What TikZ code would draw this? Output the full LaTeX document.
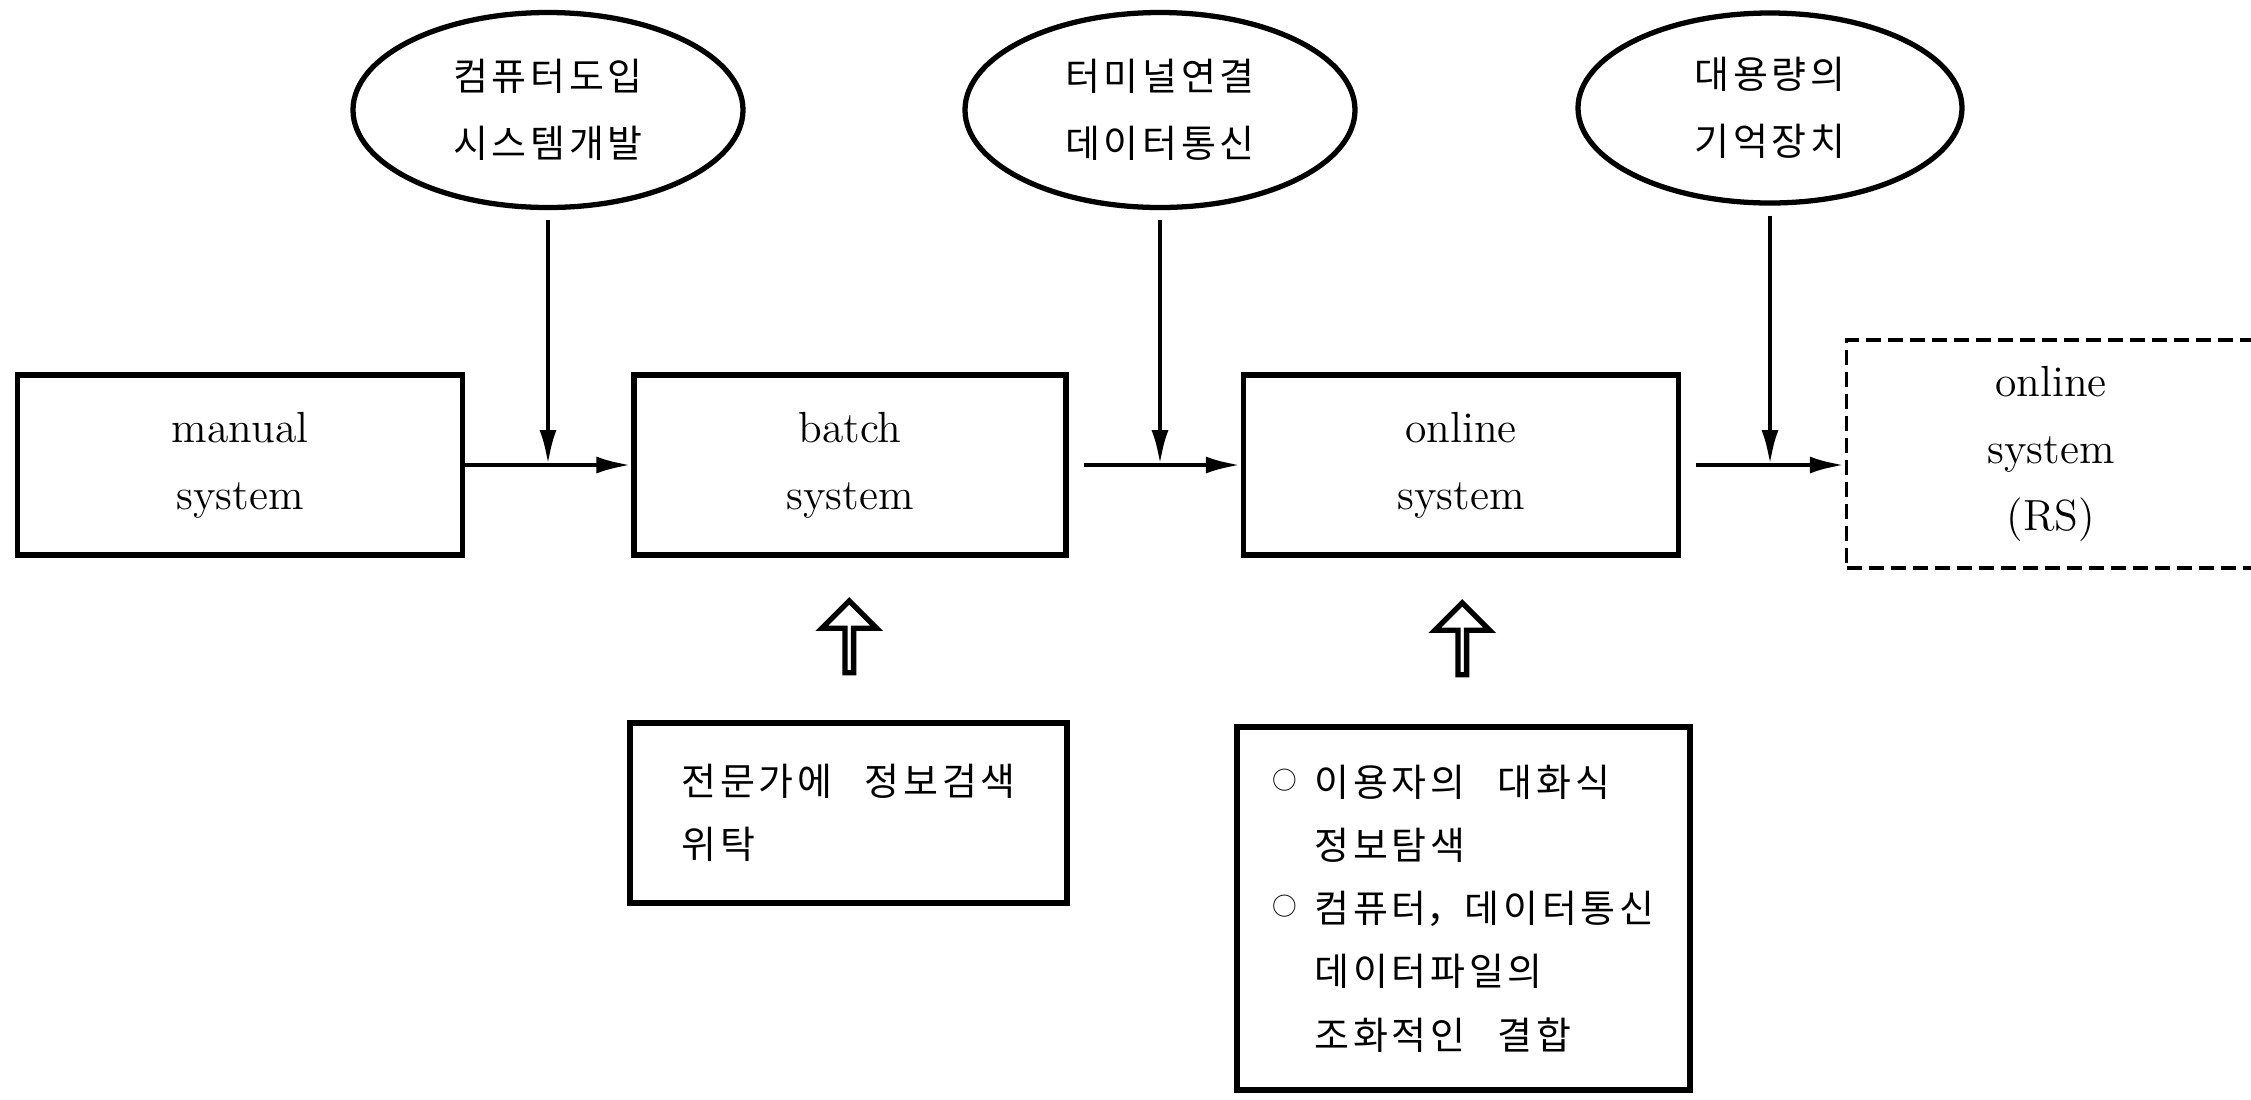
\documentclass[tikz,border=0pt]{standalone}
\usepackage{fontspec}
\newfontfamily\krfont{Noto Sans CJK KR}
\usetikzlibrary{shapes.geometric, shapes.arrows, arrows.meta, calc}
\newcommand{\itemcirc}{\makebox[1.1em][l]{\raisebox{2pt}{\fontsize{7pt}{7pt}\selectfont ○}}}
\newcommand{\wordgap}{\hspace{0.85em}}
% wider tracking between Hangul syllables
\XeTeXinterchartokenstate=1
\newXeTeXintercharclass\hangulclass
\count255="AC00
\loop
  \XeTeXcharclass\count255=\hangulclass
  \ifnum\count255<"D7A3 \advance\count255 by 1
\repeat
\XeTeXinterchartoks\hangulclass\hangulclass={\hskip0.1em\relax}

\begin{document}
\begin{tikzpicture}[
        system/.style={rectangle, draw=black, line width=1.5pt, minimum width=4.35cm, minimum height=1.8cm, align=center, font=\fontsize{12.4pt}{19pt}\selectfont},
        future/.style={system, dash pattern=on 0.15cm off 0.07cm, line width=1pt, minimum width=4.09cm, minimum height=2.28cm},
        factor/.style={ellipse, draw=black, line width=1.5pt, minimum width=3.9cm, minimum height=1.95cm, inner sep=0pt, align=center, font=\krfont\fontsize{10.8pt}{19pt}\selectfont},
        note/.style={rectangle, draw=black, line width=1.5pt, inner xsep=0.4cm, align=left, font=\krfont\fontsize{10.8pt}{18pt}\selectfont},
        relation/.style={-{Latex[length=0.35cm, width=0.17cm]}, line width=1.3pt},
        support/.style={single arrow, draw=black, line width=1.5pt, shape border rotate=90, minimum height=0.72cm, minimum width=0.55cm, single arrow head extend=0.14cm, inner sep=0pt}
    ]
        \useasboundingbox (0,0) rectangle (22.51,-10.99);
        \clip (0,0) rectangle (22.51,-10.99);

        % Top row - factors
        \node[factor] (computer) at (5.48,-1.10) {컴퓨터도입\\시스템개발};
        \node[factor] (terminal) at (11.60,-1.10) {터미널연결\\데이터통신};
        \node[factor, minimum width=3.84cm, minimum height=1.9cm] (storage) at (17.70,-1.08) {대용량의\\기억장치};

        % Middle row - systems
        \node[system, minimum width=4.45cm] (manual) at (2.40,-4.65) {manual\\system};
        \node[system, minimum width=4.32cm] (batch) at (8.50,-4.65) {batch\\system};
        \node[system] (online) at (14.61,-4.65) {online\\system};
        \node[future] (rs) at (20.51,-4.54) {online\\system\\(RS)};

        % Bottom row - notes
        \node[note, minimum width=4.37cm, minimum height=1.8cm] (expert) at (8.485,-8.13) {전문가에\wordgap 정보검색\\위탁};
        \node[note, inner xsep=0.25cm, minimum width=4.53cm, minimum height=3.63cm] (user) at (14.635,-9.085) {\itemcirc 이용자의\wordgap 대화식\\\hphantom{\itemcirc}정보탐색\\\itemcirc 컴퓨터，데이터통신\\\hphantom{\itemcirc}데이터파일의\\\hphantom{\itemcirc}조화적인\wordgap 결합};

        % Up arrows
        \node[support] (up1) at ($(batch.south)!0.5!(expert.north)$) {};
        \node[support] (up2) at ($(online.south)!0.5!(user.north)$) {};

        % Junctions on the flow line
        \coordinate (j1) at (computer.south |- manual.east);
        \coordinate (j2) at (terminal.south |- batch.east);
        \coordinate (j3) at (storage.south |- online.east);

        % Relationships
        \draw[relation] (manual.east) -- (batch.west);
        \draw[relation, shorten <=0.15cm] (batch.east) -- (online.west);
        \draw[relation, shorten <=0.15cm] (online.east) -- (online.east -| rs.west);
        \draw[relation, shorten <=0.1cm] (computer.south) -- (j1);
        \draw[relation, shorten <=0.1cm] (terminal.south) -- (j2);
        \draw[relation, shorten <=0.1cm] (storage.south) -- (j3);
    \end{tikzpicture}
\end{document}
